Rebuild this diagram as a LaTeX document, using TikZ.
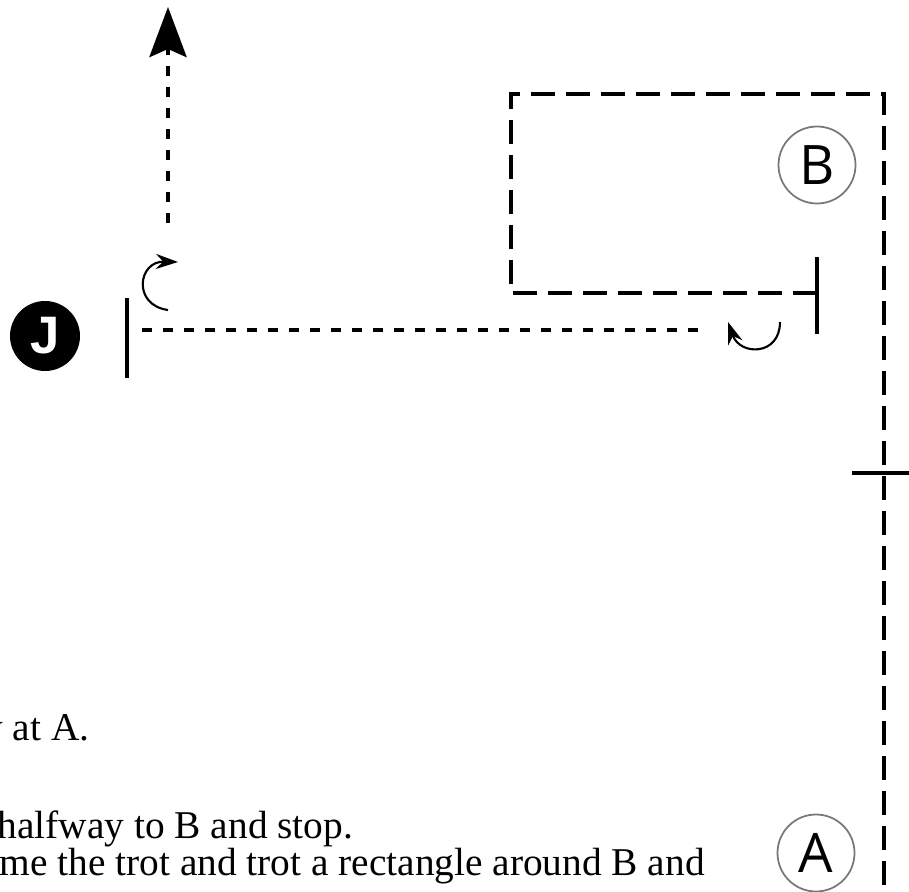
\documentclass[tikz,border=0pt]{standalone}
\usepackage{fontspec}
\setmainfont{Liberation Serif}
\newfontfamily\markfont{Open Sans}
\newfontfamily\judgefont{Liberation Sans}
\usetikzlibrary{
    arrows.meta,
    positioning
}
\usepackage{xcolor}
\definecolor{ringgray}{RGB}{120,120,120}

\begin{document}
\begin{tikzpicture}[
    x=1cm, y=1cm,
    marker/.style={
        circle, draw=ringgray, line width=0.5pt,
        minimum size=7.7mm, inner sep=0pt,
        font=\markfont\fontsize{15.5}{15.5}\selectfont
    },
    judge/.style={
        circle, fill=black, text=white,
        minimum size=7mm, inner sep=0pt,
        font=\judgefont\bfseries\fontsize{15}{15}\selectfont
    },
    route/.style={line width=1.2pt, dash pattern=on 2.4mm off 1.1mm},
    straight/.style={line width=1.3pt, dash pattern=on 1mm off 1.1mm},
    halt/.style={line width=1.2pt},
    turn/.style={line width=0.6pt, -{Stealth[length=2.2mm, width=1.5mm]}},
    instr/.style={inner sep=0pt, font=\fontsize{11.2}{11.2}\selectfont}
]

\clip (0,0) rectangle (9.09,8.91);

% Letters
\node[marker] (B) at (8.17,7.26) {B};
\node[marker] (A) at (8.16,0.38) {A};
\node[judge] (J) at (0.45,5.55) {J};

% Halt marks
\coordinate (haltJ) at (1.27,5.535);
\coordinate (haltB) at (8.17,5.98);
\coordinate (half) at (8.84,4.18);
\draw[halt] ([yshift=-4mm]haltJ) -- ([yshift=4mm]haltJ);
\draw[halt] ([yshift=-4.1mm]haltB) -- ([yshift=3.6mm]haltB);
\draw[halt] ([xshift=-3.2mm]half) -- ([xshift=3.2mm]half);

% Trot rectangle around B, then down to A
\coordinate (lowleft) at (5.11,5.98);
\coordinate (upleft) at (5.11,7.97);
\coordinate (upright) at (8.84,7.97);
\coordinate (downA) at (8.84,-0.1);
\draw[route] (haltB) -- (lowleft) -- (upleft) -- (upright) -- (downA);

% Straight line and exit
\coordinate (lineL) at (1.42,5.61);
\coordinate (lineR) at (7.03,5.61);
\coordinate (exit) at (1.68,6.68);
\coordinate (goal) at (1.68,8.84);
\draw[straight] (lineL) -- (lineR);
\draw[straight, -{Stealth[length=5mm, width=3.7mm, inset=0.8mm]}] (exit) -- (goal);

% Turns
\coordinate (turnJa) at (1.68,5.81);
\coordinate (turnJb) at (1.78,6.29);
\coordinate (turnBa) at (7.80,5.69);
\coordinate (turnBb) at (7.28,5.69);
\draw[turn] (turnJa) .. controls (1.32,5.86) and (1.38,6.30) .. (turnJb);
\draw[turn] (turnBa) .. controls (7.80,5.35) and (7.40,5.35) .. (turnBb);

% Text
\node[instr, anchor=base east] (step1) at (0.90,1.51) {y at A.};
\node[instr, anchor=base west] (step2) at (-0.03,0.53) {halfway to B and stop.};
\node[instr, anchor=base west] (step3) at (-0.01,0.16) {me the trot and trot a rectangle around B and};

\end{tikzpicture}
\end{document}
